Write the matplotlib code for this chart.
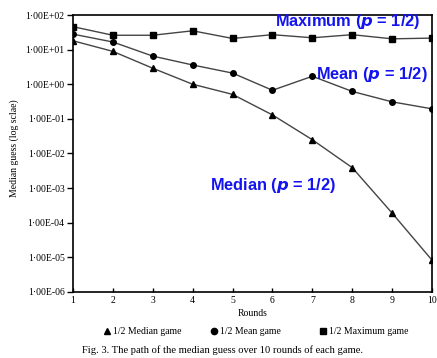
import numpy as np
import matplotlib
matplotlib.use("Agg")
from matplotlib import pyplot as plt
from matplotlib.ticker import FuncFormatter, LogLocator, NullLocator

# data
rounds = [1, 2, 3, 4, 5, 6, 7, 8, 9, 10]
median_game = [18, 8.9, 2.9, 1.0, 0.51, 0.13, 0.025, 0.0039, 1.9e-4, 8.3e-6]
mean_game = [28, 16.6, 6.5, 3.6, 2.1, 0.67, 1.7, 0.62, 0.31, 0.195]
maximum_game = [46, 26, 26, 35, 21, 27, 22, 27, 20.5, 21.5]

serif = "Liberation Serif"
line_col = "#444444"

fig = plt.figure(figsize=(4.37, 3.58), dpi=100)
ax = fig.add_axes([0.167, 0.1844, 0.8216, 0.7737])

ax.plot(rounds, median_game, color=line_col, lw=1.0, marker="^", ms=4,
        mfc="black", mec="black")
ax.plot(rounds, mean_game, color=line_col, lw=1.0, marker="o", ms=4,
        mfc="black", mec="black")
ax.plot(rounds, maximum_game, color=line_col, lw=1.0, marker="s", ms=4,
        mfc="black", mec="black")

ax.set_yscale("log")
ax.set_ylim(1e-6, 1e2)
ax.set_xlim(1, 10)
ax.set_xticks(rounds)
ax.yaxis.set_major_locator(LogLocator(base=10, numticks=20))
ax.yaxis.set_minor_locator(NullLocator())

def fmt(v, pos):
    e = int(round(np.log10(v)))
    return "1\u00b700E%+03d" % e

ax.yaxis.set_major_formatter(FuncFormatter(fmt))
ax.tick_params(axis="y", direction="out", length=4, width=1, labelsize=7, pad=2)
ax.tick_params(axis="x", direction="in", length=3, width=1, labelsize=7, pad=3)
for lab in ax.get_xticklabels() + ax.get_yticklabels():
    lab.set_fontfamily(serif)
for s in ax.spines.values():
    s.set_linewidth(1.2)

ax.set_xlabel("Rounds", fontsize=7, fontfamily=serif, labelpad=3)
fig.text(0.032, 0.587, "Median guess (log sclae)", rotation=90, fontsize=7,
         fontfamily=serif, ha="center", va="center")

# blue annotations
blue = "#1414f0"
fs = 11.8
ax.text(9.70, 64, "Maximum ($\\mathbfit{p}$ = 1/2)", color=blue, fontsize=fs,
        fontweight="bold", fontfamily="Liberation Sans", ha="right", va="center")
ax.text(7.09, 1.85, "Mean ($\\mathbfit{p}$ = 1/2)", color=blue, fontsize=fs,
        fontweight="bold", fontfamily="Liberation Sans", ha="left", va="center")
ax.text(4.43, 1.23e-3, "Median ($\\mathbfit{p}$ = 1/2)", color=blue, fontsize=fs,
        fontweight="bold", fontfamily="Liberation Sans", ha="left", va="center")

# legend row below the axes
leg_y = 0.0754
for x0, mk, lbl in [(0.245, "^", "1/2 Median game"),
                    (0.49, "o", "1/2 Mean game"),
                    (0.739, "s", "1/2 Maximum game")]:
    fig.lines.append(plt.Line2D([x0], [leg_y], marker=mk, ms=4.5, color="black",
                                ls="none", transform=fig.transFigure))
    fig.text(x0 + 0.014, leg_y, lbl, fontsize=7, fontfamily=serif,
             ha="left", va="center")

fig.text(0.188, 0.022, "Fig. 3. The path of the median guess over 10 rounds of each game.",
         fontsize=7.6, fontfamily=serif, ha="left", va="center")

fig.savefig("out.png", dpi=100)
